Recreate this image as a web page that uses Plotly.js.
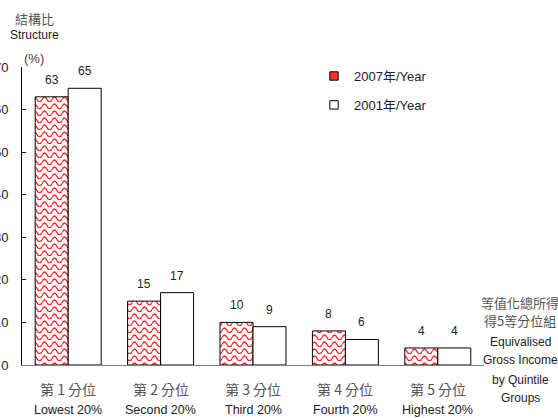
<!DOCTYPE html>
<html><head><meta charset="utf-8">
<script src="https://cdn.plot.ly/plotly-3.0.1.min.js"></script>
<style>body{margin:0;background:#fff}#c{width:558px;height:418px}</style>
</head><body><div id="c"></div>
<script>
const categories = ['Q1','Q2','Q3','Q4','Q5'];
const catZh = ['第 1 分位','第 2 分位','第 3 分位','第 4 分位','第 5 分位'];
const catEn = ['Lowest 20%','Second 20%','Third 20%','Fourth 20%','Highest 20%'];
const series2007 = [63, 15, 10, 8, 4];
const series2001 = [65, 17, 9, 6, 4];
const seriesNames = ['2007年/Year', '2001年/Year'];
const yTicks = [0,10,20,30,40,50,60,70];

const FONT = 'Liberation Sans Narrow, Arial Narrow, Liberation Sans, Arial, Noto Sans CJK TC, sans-serif';
const CJK = 'Noto Sans CJK TC, sans-serif';

const traces = [
  {type:'bar', x:categories, y:series2007, name:seriesNames[0], legendgroup:'a',
   marker:{color:'#ffffff', line:{color:'#000', width:1}}},
  {type:'bar', x:categories, y:series2001, name:seriesNames[1], legendgroup:'b',
   marker:{color:'#ffffff', line:{color:'#000', width:1}}}
];

const ann = [];
const off = 0.178;
const A = (o)=>Object.assign({showarrow:false, xanchor:'center', yanchor:'middle'}, o);
categories.forEach((c,i)=>{
  ann.push(A({x:i-off, y:series2007[i], xref:'x', yref:'y', text:String(series2007[i]), yshift:17, font:{family:FONT,size:12,color:'#222'}}));
  ann.push(A({x:i+off, y:series2001[i], xref:'x', yref:'y', text:String(series2001[i]), yshift:17, font:{family:FONT,size:12,color:'#222'}}));
  ann.push(A({x:i, y:-0.081, xref:'x', yref:'paper', text:catZh[i], font:{family:CJK,size:14,color:'#555'}}));
  ann.push(A({x:i, y:-0.151, xref:'x', yref:'paper', text:catEn[i], font:{family:FONT,size:12.5,color:'#222'}}));
});
// y-axis title
const yT = [['結構比',1.164,CJK,13,'#555'],['Structure',1.107,FONT,12,'#222'],['(%)',1.03,FONT,13,'#444']];
yT.forEach(t=>ann.push(A({x:0.026,y:t[1],xref:'paper',yref:'paper',text:t[0],font:{family:t[2],size:t[3],color:t[4]}})));
// x-axis title (right side)
const xT = [['等值化總所得',0.209,CJK,13,'#555'],['得5等分位組',0.149,CJK,13,'#555'],['Equivalised',0.078,FONT,12,'#222'],['Gross Income',0.017,FONT,12,'#222'],['by Quintile',-0.050,FONT,12,'#222'],['Groups',-0.111,FONT,12,'#222']];
xT.forEach(t=>ann.push(A({x:1.078,y:t[1],xref:'paper',yref:'paper',text:t[0],font:{family:t[2],size:t[3],color:t[4]}})));

const layout = {
  width:558, height:418,
  margin:{l:22, r:74, t:67, b:53, pad:0},
  paper_bgcolor:'#fff', plot_bgcolor:'#fff',
  barmode:'group', bargap:0.286, bargroupgap:0,
  showlegend:true,
  legend:{x:0.632, y:1.02, xanchor:'left', yanchor:'top', bgcolor:'rgba(0,0,0,0)',
          font:{family:FONT, size:13, color:'#222'}, tracegroupgap:9, traceorder:'grouped',
          itemwidth:30},
  xaxis:{type:'category', range:[-0.5,4.5], showticklabels:false, ticks:'', showline:true,
         linecolor:'#808080', linewidth:1, showgrid:false, zeroline:false, fixedrange:true},
  yaxis:{range:[0,70], tickvals:yTicks, ticks:'inside', ticklen:4, tickcolor:'#000',
         showline:true, linecolor:'#000', linewidth:1, showgrid:false, zeroline:false,
         ticklabelstandoff:10, tickfont:{family:FONT, size:13, color:'#222'}},
  annotations:ann
};

Plotly.newPlot('c', traces, layout, {staticPlot:true}).then(gd=>{
  const ns='http://www.w3.org/2000/svg';
  const svg=gd.querySelector('svg.main-svg');
  let defs=svg.querySelector('defs');
  const pat=document.createElementNS(ns,'pattern');
  pat.setAttribute('id','wave'); pat.setAttribute('patternUnits','userSpaceOnUse');
  pat.setAttribute('width','10'); pat.setAttribute('height','7');
  const r=document.createElementNS(ns,'rect');
  r.setAttribute('width','10'); r.setAttribute('height','7'); r.setAttribute('fill','#fff');
  const p=document.createElementNS(ns,'path');
  p.setAttribute('d','M0,4.5 Q2.5,-0.5 5,4.5 T10,4.5');
  p.setAttribute('fill','none'); p.setAttribute('stroke','#ff2020'); p.setAttribute('stroke-width','1.3');
  pat.appendChild(r); pat.appendChild(p); defs.appendChild(pat);
  const tr=gd.querySelectorAll('.barlayer .trace.bars')[0];
  tr.querySelectorAll('path').forEach(e=>{e.style.fill='url(#wave)';});
  const lgs=gd.querySelectorAll('.legend .traces');
  lgs.forEach((lg,k)=>{
    lg.querySelectorAll('.legendpoints path').forEach(e=>{
      const t=e.getAttribute('transform')||'';
      e.setAttribute('transform',t+' scale(0.7)');
      e.style.strokeWidth='1.4px';
      if(k===0) e.style.fill='#ff3030';
    });
  });
});
</script></body></html>
